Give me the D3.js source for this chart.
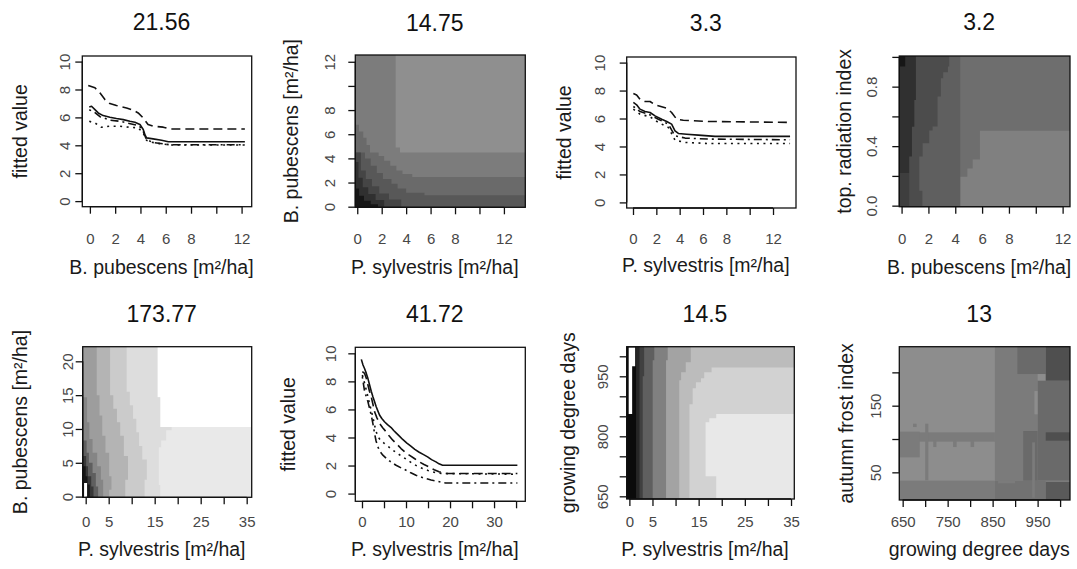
<!DOCTYPE html>
<html><head><meta charset="utf-8">
<script src="https://cdn.jsdelivr.net/npm/d3@7"></script>
<style>
body{margin:0;background:#fff}
svg{display:block}
text{font-family:"Liberation Sans",Arial,Helvetica,sans-serif}
</style>
</head><body>
<svg id="chart" width="1077" height="569"></svg>
<script>
// ---------------- DATA ----------------
const titles = ["21.56","14.75","3.3","3.2","173.77","41.72","14.5","13"];
const xLabels = ["B. pubescens [m²/ha]","P. sylvestris [m²/ha]","P. sylvestris [m²/ha]","B. pubescens [m²/ha]",
                 "P. sylvestris [m²/ha]","P. sylvestris [m²/ha]","P. sylvestris [m²/ha]","growing degree days"];
const yLabels = ["fitted value","B. pubescens [m²/ha]","fitted value","top. radiation index",
                 "B. pubescens [m²/ha]","fitted value","growing degree days","autumn frost index"];

// tick values and tick labels
const ticks0to12 = [0,2,4,6,8,10,12];
const labels0to12 = ["0","2","4","6","8","","12"];
const ticks0to10 = [0,2,4,6,8,10];
const labels0to10 = ["0","2","4","6","8","10"];
const ticks0to35 = [0,5,10,15,20,25,30,35];
const labels0to35odd = ["0","5","","15","","25","","35"];
const labels0to35even = ["0","","10","","20","","30",""];
const ticksRad = [0,0.2,0.4,0.6,0.8,1.0];
const labelsRad = ["0.0","","0.4","","0.8",""];
const ticksBpub20 = [0,5,10,15,20];
const labelsBpub20 = ["0","5","10","15","20"];
const ticksGdd = [650,700,750,800,850,900,950,1000];
const labelsGddY = ["650","","","800","","","950",""];
const labelsGddX = ["650","","750","","850","","950",""];
const ticksFrost = [50,100,150,200];
const labelsFrost = ["50","","150",""];

// line series (x, fitted value)
const p1Solid = [[-0.05,6.75],[0.13,6.8],[0.4,6.56],[0.66,6.32],[1.05,6.13],[1.58,6.01],[2.1,5.92],[2.64,5.84],[3.16,5.72],[3.56,5.65],[3.96,5.49],[4.22,5.13],[4.35,4.77],[4.48,4.53],[5.0,4.46],[5.67,4.36],[6.2,4.26],[12.26,4.26]];
const p1Dashed = [[-0.13,8.29],[0.4,8.12],[0.79,7.76],[1.19,7.28],[1.58,6.99],[2.1,6.85],[2.9,6.68],[3.43,6.51],[3.82,6.32],[4.22,5.96],[4.6,5.49],[5.0,5.37],[5.8,5.3],[6.33,5.17],[12.26,5.17]];
const p1Dotted = [[-0.05,5.72],[0.4,5.6],[0.92,5.29],[1.58,5.37],[2.37,5.37],[3.16,5.29],[3.82,5.25],[4.22,4.89],[4.48,4.36],[4.88,4.22],[5.54,4.12],[6.33,4.02],[12.26,4.02]];
const p1DashDot = [[-0.05,6.55],[0.4,6.35],[0.8,6.05],[1.6,5.8],[2.4,5.72],[3.2,5.55],[3.9,5.4],[4.22,5.0],[4.48,4.4],[5.0,4.2],[6.3,4.04],[12.26,4.04]];

const p3Solid = [[0.03,7.15],[0.31,6.98],[0.6,6.67],[1.03,6.5],[1.46,6.43],[1.89,6.19],[2.46,5.95],[2.89,5.79],[3.31,5.6],[3.6,5.12],[3.89,4.93],[4.6,4.88],[5.6,4.81],[7.03,4.72],[13.46,4.72]];
const p3Dashed = [[0.03,7.79],[0.31,7.69],[0.6,7.38],[1.03,7.22],[1.46,7.22],[1.89,6.98],[2.46,6.84],[2.89,6.74],[3.31,6.43],[3.74,5.95],[4.31,5.88],[6.46,5.79],[13.46,5.72]];
const p3DashDot = [[0.03,6.86],[0.6,6.5],[1.46,6.26],[2.17,5.95],[3.03,5.6],[3.6,4.76],[4.46,4.6],[6.46,4.53],[13.46,4.48]];
const p3Dotted = [[0.03,6.67],[0.6,6.31],[1.46,6.12],[2.17,5.72],[3.03,5.36],[3.6,4.45],[4.46,4.29],[6.46,4.21],[13.46,4.21]];

const p6Solid = [[-0.15,9.57],[0.23,9.17],[0.6,8.9],[0.98,8.57],[1.35,8.2],[1.73,7.74],[2.1,7.3],[2.48,6.9],[2.86,6.55],[3.23,6.19],[3.6,5.9],[3.98,5.6],[4.5,5.35],[5.11,5.12],[5.8,4.92],[6.62,4.71],[7.2,4.5],[7.74,4.33],[8.5,4.1],[9.25,3.86],[10.2,3.6],[11.1,3.38],[12.0,3.15],[13.0,2.95],[14.0,2.78],[14.9,2.62],[15.8,2.42],[16.8,2.26],[17.5,2.12],[18.3,2.02],[35.3,2.02]];
const p6Dashed = [[0.08,8.69],[0.6,8.57],[1.0,8.2],[1.35,7.74],[1.7,7.3],[2.1,6.9],[2.5,6.35],[2.86,5.83],[3.4,5.4],[3.98,5.0],[4.7,4.7],[5.5,4.4],[6.2,4.1],[7.0,3.81],[8.0,3.5],[8.87,3.21],[9.8,2.95],[10.75,2.74],[11.9,2.5],[13.0,2.26],[14.1,2.07],[15.26,1.9],[16.4,1.7],[17.5,1.55],[19.0,1.43],[35.3,1.43]];
const p6Dotted = [[0.08,8.45],[0.6,7.86],[1.0,7.35],[1.35,6.9],[1.7,6.4],[2.1,5.95],[2.5,5.4],[2.86,4.88],[3.2,4.45],[3.6,4.05],[4.3,3.78],[5.11,3.57],[6.0,3.35],[7.0,3.1],[8.1,2.85],[9.25,2.62],[10.4,2.38],[11.5,2.14],[12.6,1.95],[13.76,1.79],[15.0,1.65],[16.0,1.55],[17.2,1.47],[18.3,1.43],[35.3,1.38]];
const p6DashDot = [[0.08,8.33],[0.6,7.26],[1.0,6.9],[1.35,6.55],[1.7,6.1],[2.1,5.6],[2.5,4.95],[2.86,4.29],[3.2,3.75],[3.6,3.33],[4.1,3.0],[4.74,2.74],[5.5,2.52],[6.24,2.33],[7.0,2.17],[7.74,2.02],[8.9,1.83],[10.0,1.67],[11.1,1.48],[12.26,1.31],[13.4,1.18],[14.5,1.07],[15.7,0.97],[16.8,0.9],[18.0,0.82],[19.0,0.76],[35.3,0.76]];

// heat-map level regions: {lv: level index, pts: polygon in data units}
const p2Regions = [
 {lv:1, pts:[[-0.2,13],[3.14,13],[3.14,4.9],[3.5,4.9],[3.5,4.49],[14,4.49],[14,-0.1],[-0.2,-0.1]]},
 {lv:2, pts:[[-0.2,6.78],[0.14,6.78],[0.14,6.23],[0.49,6.23],[0.49,5.7],[0.76,5.7],[0.76,5.1],[1.04,5.1],[1.04,4.49],[1.75,4.49],[1.75,4.2],[2.2,4.2],[2.2,3.8],[2.7,3.8],[2.7,3.4],[3.2,3.4],[3.2,3.0],[3.7,3.0],[3.7,2.7],[4.5,2.7],[4.5,2.45],[14,2.45],[14,-0.1],[-0.2,-0.1]]},
 {lv:3, pts:[[-0.2,4.49],[0.63,4.49],[0.63,4.0],[1.1,4.0],[1.1,3.4],[1.6,3.4],[1.6,2.8],[2.1,2.8],[2.1,2.3],[2.8,2.3],[2.8,1.9],[3.3,1.9],[3.3,1.5],[4.0,1.5],[4.0,1.15],[5.5,1.15],[5.5,0.95],[14,0.95],[14,-0.1],[-0.2,-0.1]]},
 {lv:4, pts:[[-0.2,4.49],[0.3,4.49],[0.3,3.0],[0.7,3.0],[0.7,2.3],[1.2,2.3],[1.2,1.7],[1.8,1.7],[1.8,1.1],[2.6,1.1],[2.6,0.6],[3.6,0.6],[3.6,-0.1],[-0.2,-0.1]]},
 {lv:5, pts:[[-0.2,3.7],[0.1,3.7],[0.1,2.4],[0.45,2.4],[0.45,1.6],[0.9,1.6],[0.9,1.05],[1.5,1.05],[1.5,0.55],[2.2,0.55],[2.2,-0.1],[-0.2,-0.1]]},
 {lv:6, pts:[[-0.2,1.5],[0.15,1.5],[0.15,0.9],[0.55,0.9],[0.55,0.5],[1.1,0.5],[1.1,0.2],[1.7,0.2],[1.7,-0.1],[-0.2,-0.1]]}
];
const p4Regions = [
 {lv:1, pts:[[-0.2,1.02],[12.6,1.02],[12.6,0.503],[5.84,0.503],[5.84,0.31],[5.3,0.31],[5.3,0.25],[4.9,0.25],[4.9,0.195],[4.37,0.195],[4.37,-0.02],[-0.2,-0.02]]},
 {lv:2, pts:[[-0.2,1.02],[4.37,1.02],[4.37,-0.02],[-0.2,-0.02]]},
 {lv:3, pts:[[-0.2,1.02],[3.55,1.02],[3.55,0.936],[3.45,0.936],[3.45,0.896],[3.1,0.896],[3.1,0.857],[2.93,0.857],[2.93,0.734],[2.68,0.734],[2.68,0.532],[2.31,0.532],[2.31,0.505],[2.06,0.505],[2.06,0.42],[1.57,0.42],[1.57,0.33],[1.32,0.33],[1.32,0.1],[1.55,0.1],[1.55,-0.02],[-0.2,-0.02]]},
 {lv:5, pts:[[-0.2,1.02],[1.07,1.02],[1.07,0.71],[0.95,0.71],[0.95,0.53],[0.77,0.53],[0.77,0.33],[0.57,0.33],[0.57,0.22],[-0.2,0.22]]},
 {lv:4, pts:[[-0.2,0.22],[0.57,0.22],[0.57,-0.02],[-0.2,-0.02]]},
 {lv:6, pts:[[-0.2,1.02],[0.27,1.02],[0.27,0.936],[-0.2,0.936]]}
];
const p5Regions = [
 {lv:1, pts:[[-1,23],[15.6,23],[15.6,14.7],[16.2,14.7],[16.2,10.3],[37,10.3],[37,-0.5],[-1,-0.5]]},
 {lv:2, pts:[[-1,23],[15.6,23],[15.6,14.7],[16.2,14.7],[16.2,10.3],[18.7,10.3],[18.7,9.8],[17.5,9.8],[17.5,8.3],[16.4,8.3],[16.4,7.3],[15.9,7.3],[15.9,1.7],[16.2,1.7],[16.2,-0.5],[-1,-0.5]]},
 {lv:3, pts:[[-1,23],[8.9,23],[8.9,15.5],[9.6,15.5],[9.6,13.5],[10.3,13.5],[10.3,11.5],[11.0,11.5],[11.0,9.5],[11.6,9.5],[11.6,7.5],[12.3,7.5],[12.3,5.5],[13.3,5.5],[13.3,2.5],[12.8,2.5],[12.8,-0.5],[-1,-0.5]]},
 {lv:4, pts:[[-1,23],[5.3,23],[5.3,15],[6.0,15],[6.0,13],[6.8,13],[6.8,11],[7.5,11],[7.5,9],[8.3,9],[8.3,6],[9.2,6],[9.2,2.5],[8.6,2.5],[8.6,-0.5],[-1,-0.5]]},
 {lv:5, pts:[[-1,23],[2.4,23],[2.4,15],[3.0,15],[3.0,12],[3.6,12],[3.6,9],[4.3,9],[4.3,6.5],[5.1,6.5],[5.1,3],[5.6,3],[5.6,1],[5.1,1],[5.1,-0.5],[-1,-0.5]]},
 {lv:6, pts:[[-1,14.7],[0.3,14.7],[0.3,11],[0.8,11],[0.8,8.5],[1.5,8.5],[1.5,6.5],[2.5,6.5],[2.5,4.5],[3.3,4.5],[3.3,2.5],[3.8,2.5],[3.8,-0.5],[-1,-0.5]]},
 {lv:7, pts:[[-1,8.3],[0.2,8.3],[0.2,6.5],[0.7,6.5],[0.7,5],[1.5,5],[1.5,3.5],[2.2,3.5],[2.2,1.5],[2.7,1.5],[2.7,-0.5],[-1,-0.5]]},
 {lv:8, pts:[[-1,6],[0.1,6],[0.1,4.5],[0.5,4.5],[0.5,3],[1.2,3],[1.2,1.5],[1.7,1.5],[1.7,-0.5],[-1,-0.5]]},
 {lv:9, pts:[[-1,4.5],[0,4.5],[0,3],[0.4,3],[0.4,1.8],[0.9,1.8],[0.9,-0.5],[-1,-0.5]]},
 {lv:0, pts:[[-0.35,-0.5],[0.3,-0.5],[0.3,2.0],[-0.35,2.0]]}
];
const p7Regions = [
 {lv:1, pts:[[-1,1030],[37,1030],[37,856],[18.8,856],[18.8,845],[17.3,845],[17.3,835],[16.5,835],[16.5,700],[18.8,700],[18.8,640],[-1,640]]},
 {lv:2, pts:[[-1,1030],[37,1030],[37,972],[17.8,972],[17.8,960],[16.2,960],[16.2,945],[15.5,945],[15.5,935],[14.4,935],[14.4,920],[13.7,920],[13.7,880],[13.0,880],[13.0,640],[-1,640]]},
 {lv:3, pts:[[-1,1030],[13.3,1030],[13.3,985],[12.2,985],[12.2,960],[11.2,960],[11.2,940],[10.8,940],[10.8,640],[-1,640]]},
 {lv:4, pts:[[-1,1030],[8.3,1030],[8.3,990],[7.94,990],[7.94,640],[-1,640]]},
 {lv:5, pts:[[-1,1030],[5.4,1030],[5.4,990],[5.05,990],[5.05,640],[-1,640]]},
 {lv:6, pts:[[-1,1030],[3.2,1030],[3.2,950],[2.89,950],[2.89,640],[-1,640]]},
 {lv:7, pts:[[-1,1030],[2.2,1030],[2.2,640],[-1,640]]},
 {lv:8, pts:[[-1,1030],[1.44,1030],[1.44,640],[-1,640]]},
 {lv:9, pts:[[-0.15,1022],[1.25,1022],[1.25,975],[0.6,975],[0.6,856],[-0.15,856]]}
];
// panel 8 blocks: [gdd0, gdd1, frost0, frost1, level]
const p8Blocks = [
 [642,855,96,110,1],[642,688,72.5,111,1],[700,707,38,123,1],
 [718,725,88,98,1],[762,770,88,98,1],[801,809,88,98,1],[673,681,118,123,1],
 [642,855,5,37.5,1],[855,950,37.5,240,1],
 [950,1023,37.5,187.5,3],[918,950,37.5,112,3],[943,950,137,172,0],
 [905,968,197.5,240,3],[968,1023,187.5,240,5],[968,1023,97.5,110,5],
 [855,968,5,37.5,2],[862,900,33.5,37.5,1],[968,1023,5,36,4],[938,944,12,95,1]
];

// ---------------- LAYOUT / STYLE ----------------
const svg = d3.select("#chart");
const FONT_T = 23, FONT_L = 19.5, FONT_K = 15;
const grays = {
  p2: ["#8f8f8f","#7c7c7c","#6a6a6a","#585858","#454545","#303030","#161616"],
  p4: ["#808080","#6e6e6e","#5f5f5f","#4c4c4c","#3e3e3e","#303030","#161616"],
  p5: ["#ffffff","#e9e9e9","#dddddd","#cbcbcb","#b4b4b4","#9d9d9d","#858585","#5f5f5f","#383838","#161616"],
  p7: ["#e8e8e8","#d2d2d2","#bcbcbc","#a3a3a3","#808080","#5f5f5f","#404040","#262626","#0b0b0b","#ffffff"],
  p8: ["#8d8d8d","#7b7b7b","#727272","#6a6a6a","#5a5a5a","#4f4f4f"]
};

const panels = [
 {box:[82.3,56,251.7,206.7], xd:[-0.6,12.8], yd:[-0.4,10.4], xt:ticks0to12, xl:labels0to12, yt:ticks0to10, yl:labels0to10,
  ytx:65, ylx:20, ty:30, xty:238.5, xly:266.7,
  lines:[[p1Solid,null],[p1Dashed,"9,5"],[p1Dotted,"2,4.5"],[p1DashDot,"2,4,8,4"]]},
 {box:[355.3,55,525.3,207.3], xd:[-0.16,13.75], yd:[-0.05,12.56], xt:ticks0to12, xl:labels0to12, yt:ticks0to12, yl:labels0to12,
  ytx:330, ylx:291, ty:30.5, xty:239, xly:266.7, heat:{regions:p2Regions, pal:grays.p2}},
 {box:[626.7,57,796,208], xd:[-0.54,13.97], yd:[-0.4,10.4], xt:ticks0to12, xl:labels0to12, yt:ticks0to10, yl:labels0to10,
  ytx:599.5, ylx:564.3, ty:30.5, xty:239, xly:265.5,
  lines:[[p3Solid,null],[p3Dashed,"9,5"],[p3DashDot,"2,4,8,4"],[p3Dotted,"2,4.5"]]},
 {box:[899.3,56,1070,206.7], xd:[-0.17,12.55], yd:[-0.007,1.006], xt:ticks0to12, xl:labels0to12, yt:ticksRad, yl:labelsRad,
  ytx:871.5, ylx:844.3, ty:30, xty:238.5, xly:266.7, heat:{regions:p4Regions, pal:grays.p4}},
 {box:[82.7,346.7,251.7,497.3], xd:[-0.65,36.09], yd:[-0.1,22.16], xt:ticks0to35, xl:labels0to35odd, yt:ticksBpub20, yl:labelsBpub20,
  ytx:68, ylx:20, ty:322, xty:522, xly:549, heat:{regions:p5Regions, pal:grays.p5}},
 {box:[355.3,347.3,525.3,501.3], xd:[-1.52,37.1], yd:[-0.55,10.43], xt:ticks0to35, xl:labels0to35even, yt:ticks0to10, yl:labels0to10,
  ytx:331, ylx:288, ty:322, xty:522, xly:549,
  lines:[[p6Solid,null],[p6Dashed,"9,5"],[p6Dotted,"2,4.5"],[p6DashDot,"2,4,8,4"]]},
 {box:[626.7,346.7,794.3,499], xd:[-0.58,35.71], yd:[643.3,1024], xt:ticks0to35, xl:labels0to35odd, yt:ticksGdd, yl:labelsGddY,
  ytx:602.5, ylx:567.7, ty:322, xty:522, xly:549, heat:{regions:p7Regions, pal:grays.p7}},
 {box:[899.3,346.7,1070,500], xd:[642.5,1022], yd:[8.5,238.5], xt:ticksGdd, xl:labelsGddX, yt:ticksFrost, yl:labelsFrost,
  ytx:876, ylx:846, ty:322, xty:522, xly:549, heat:{blocks:p8Blocks, pal:grays.p8}}
];

panels.forEach((p, i) => {
  const [L, T, R, B] = p.box;
  const x = d3.scaleLinear().domain(p.xd).range([L, R]);
  const y = d3.scaleLinear().domain(p.yd).range([B, T]);
  const g = svg.append("g");
  const clipId = "clip" + i;
  svg.append("clipPath").attr("id", clipId).append("rect")
     .attr("x", L).attr("y", T).attr("width", R - L).attr("height", B - T);
  const plot = g.append("g").attr("clip-path", `url(#${clipId})`);
  const poly = d3.line().x(d => x(d[0])).y(d => y(d[1]));

  if (p.heat) {
    const pal = p.heat.pal;
    plot.append("rect").attr("x", L).attr("y", T).attr("width", R - L).attr("height", B - T).attr("fill", pal[0]);
    if (p.heat.regions) {
      plot.selectAll("path.reg").data(p.heat.regions).join("path")
        .attr("d", d => poly(d.pts) + "Z")
        .attr("fill", d => pal[d.lv]).attr("stroke", "none");
    }
    if (p.heat.blocks) {
      plot.selectAll("rect.blk").data(p.heat.blocks).join("rect")
        .attr("x", d => x(d[0])).attr("width", d => x(d[1]) - x(d[0]))
        .attr("y", d => y(d[3])).attr("height", d => y(d[2]) - y(d[3]))
        .attr("fill", d => pal[d[4]]);
    }
  }
  if (p.lines) {
    p.lines.forEach(([ser, dash]) => {
      plot.append("path").attr("d", poly(ser)).attr("fill", "none")
        .attr("stroke", "#111").attr("stroke-width", 1.6)
        .attr("stroke-linejoin", "round")
        .attr("stroke-dasharray", dash);
    });
  }
  // box
  g.append("rect").attr("x", L).attr("y", T).attr("width", R - L).attr("height", B - T)
    .attr("fill", "none").attr("stroke", "#111").attr("stroke-width", 1.3);

  // x axis
  const xa = d3.axisBottom(x).tickValues(p.xt).tickFormat((d, k) => p.xl[k]).tickSize(7).tickSizeOuter(0);
  const gx = g.append("g").attr("transform", `translate(0,${B})`).call(xa);
  gx.select(".domain").remove();
  gx.append("line").attr("x1", x(p.xt[0])).attr("x2", x(p.xt[p.xt.length - 1]))
    .attr("stroke", "#111").attr("stroke-width", 1.3);
  gx.selectAll(".tick line").attr("stroke", "#111").attr("stroke-width", 1.3);
  gx.selectAll(".tick text").attr("y", p.xty - B).attr("dy", "0.35em")
    .attr("font-size", FONT_K).attr("fill", "#474747")
    .attr("font-family", '"Liberation Sans",Arial,sans-serif');

  // y axis
  const ya = d3.axisLeft(y).tickValues(p.yt).tickFormat((d, k) => p.yl[k]).tickSize(7).tickSizeOuter(0);
  const gy = g.append("g").attr("transform", `translate(${L},0)`).call(ya);
  gy.select(".domain").remove();
  gy.append("line").attr("y1", y(p.yt[0])).attr("y2", y(p.yt[p.yt.length - 1]))
    .attr("stroke", "#111").attr("stroke-width", 1.3);
  gy.selectAll(".tick line").attr("stroke", "#111").attr("stroke-width", 1.3);
  gy.selectAll(".tick text").attr("x", 0).attr("dy", "0.35em")
    .attr("text-anchor", "middle")
    .attr("transform", `translate(${p.ytx - L},0) rotate(-90)`)
    .attr("font-size", FONT_K).attr("fill", "#474747")
    .attr("font-family", '"Liberation Sans",Arial,sans-serif');

  // title and x label are centred slightly left of the box centre, as in the source figure
  const cx = (L + R) / 2 - 5.5;
  g.append("text").attr("x", cx).attr("y", p.ty).attr("text-anchor", "middle")
    .attr("font-size", FONT_T).attr("fill", "#111").text(titles[i]);
  g.append("text").attr("x", cx).attr("y", p.xly).attr("dy", "0.35em").attr("text-anchor", "middle")
    .attr("font-size", FONT_L).attr("fill", "#1a1a1a").text(xLabels[i]);
  g.append("text").attr("transform", `translate(${p.ylx},${(T + B) / 2}) rotate(-90)`)
    .attr("dy", "0.35em").attr("text-anchor", "middle")
    .attr("font-size", FONT_L).attr("fill", "#1a1a1a").text(yLabels[i]);
});
</script>
</body></html>
